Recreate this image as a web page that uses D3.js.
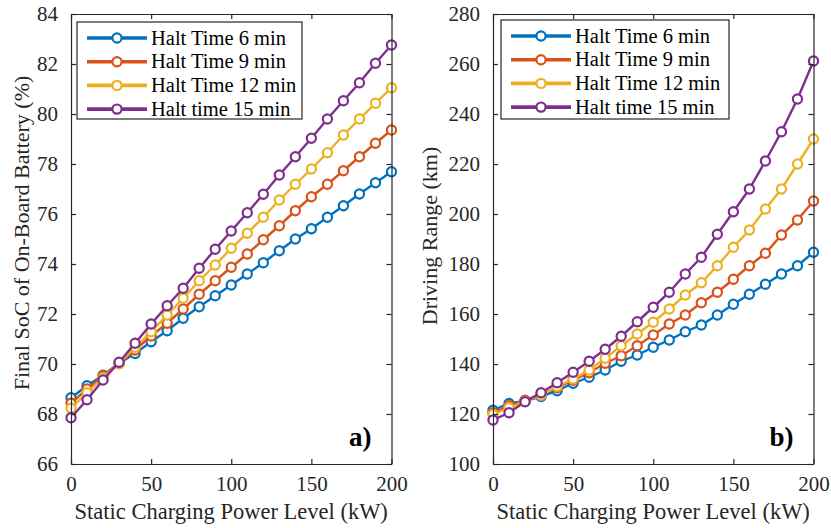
<!DOCTYPE html>
<html>
<head>
<meta charset="utf-8">
<script src="https://cdn.jsdelivr.net/npm/d3@7.9.0/dist/d3.min.js"></script>
<style>
  body { margin: 0; background: #fff; }
</style>
</head>
<body>
<svg id="chart" width="831" height="528" font-family="Liberation Serif"></svg>
<script>
// x values shared by both panels (kW)
const powerLevels = d3.range(0, 201, 10);

const seriesNames = ['Halt Time 6 min', 'Halt Time 9 min', 'Halt Time 12 min', 'Halt time 15 min'];
const seriesColors = ['#0072BD', '#D95319', '#EDB120', '#7E2F8E'];

// panel a) final SoC (%)
const soc6 = [68.65, 69.13, 69.55, 70.03, 70.42, 70.89, 71.33, 71.83, 72.29, 72.73, 73.16, 73.6, 74.05, 74.53, 75.0, 75.41, 75.87, 76.33, 76.8, 77.25, 77.69];
const soc9 = [68.43, 69.0, 69.53, 70.02, 70.56, 71.12, 71.63, 72.2, 72.79, 73.33, 73.87, 74.4, 74.97, 75.53, 76.13, 76.69, 77.19, 77.73, 78.29, 78.83, 79.36];
const soc12 = [68.23, 68.85, 69.45, 70.02, 70.67, 71.29, 71.96, 72.63, 73.33, 73.96, 74.63, 75.23, 75.87, 76.56, 77.19, 77.8, 78.45, 79.16, 79.8, 80.43, 81.05];
const soc15 = [67.85, 68.57, 69.36, 70.07, 70.83, 71.6, 72.33, 73.03, 73.83, 74.59, 75.32, 76.05, 76.79, 77.56, 78.29, 79.03, 79.8, 80.53, 81.25, 82.03, 82.76];

// panel b) driving range (km)
const range6 = [121.5, 124.2, 125.2, 127.0, 129.3, 132.3, 134.7, 137.6, 141.1, 143.6, 146.7, 149.6, 152.9, 155.6, 159.6, 163.9, 167.9, 171.9, 176.0, 179.3, 184.7];
const range9 = [120.5, 123.3, 125.5, 128.0, 130.5, 133.5, 136.5, 140.3, 143.3, 147.3, 151.6, 156.0, 159.6, 164.5, 168.7, 173.9, 179.3, 184.3, 191.6, 197.6, 205.2];
const range12 = [119.8, 122.5, 125.0, 127.5, 131.0, 134.0, 137.6, 142.3, 147.3, 152.0, 156.7, 162.0, 167.6, 172.5, 179.3, 186.7, 193.6, 202.0, 210.0, 220.0, 230.0];
const range15 = [117.6, 120.5, 124.9, 128.5, 132.5, 136.7, 141.1, 145.9, 151.1, 156.9, 162.7, 168.7, 176.0, 182.7, 191.9, 200.9, 210.0, 221.2, 232.9, 246.0, 261.2];

const xTicks = [0, 50, 100, 150, 200];
const socTicks = [66, 68, 70, 72, 74, 76, 78, 80, 82, 84];
const rangeTicks = [100, 120, 140, 160, 180, 200, 220, 240, 260, 280];

const svg = d3.select('#chart');
const axisColor = '#262626';
const serif = 'Liberation Serif';

function drawPanel(opts) {
  const { left, right, top, bottom } = opts;
  const g = svg.append('g').attr('font-family', serif);

  const x = d3.scaleLinear().domain([0, 200]).range([left, right]);
  const y = d3.scaleLinear().domain(opts.yDomain).range([bottom, top]);

  // series
  const line = d3.line().x((d, i) => x(powerLevels[i])).y(d => y(d));
  opts.series.forEach((vals, k) => {
    g.append('path')
      .attr('d', line(vals))
      .attr('fill', 'none')
      .attr('stroke', seriesColors[k])
      .attr('stroke-width', 2.4);
    g.selectAll(null).data(vals).join('circle')
      .attr('cx', (d, i) => x(powerLevels[i]))
      .attr('cy', d => y(d))
      .attr('r', 4.6)
      .attr('fill', '#fff')
      .attr('stroke', seriesColors[k])
      .attr('stroke-width', 2.2);
  });

  // axes: box with inward ticks (matlab look)
  const tl = 5;
  const bottomAx = g.append('g').attr('transform', `translate(0,${bottom})`)
    .call(d3.axisBottom(x).tickValues(xTicks).tickSizeInner(-tl).tickSizeOuter(0).tickPadding(12));
  const topAx = g.append('g').attr('transform', `translate(0,${top})`)
    .call(d3.axisTop(x).tickValues(xTicks).tickSizeInner(-tl).tickSizeOuter(0).tickFormat(''));
  const leftAx = g.append('g').attr('transform', `translate(${left},0)`)
    .call(d3.axisLeft(y).tickValues(opts.yTicks).tickSizeInner(-tl).tickSizeOuter(0).tickPadding(13));
  const rightAx = g.append('g').attr('transform', `translate(${right},0)`)
    .call(d3.axisRight(y).tickValues(opts.yTicks).tickSizeInner(-tl).tickSizeOuter(0).tickFormat(''));

  [bottomAx, topAx, leftAx, rightAx].forEach(a => {
    a.attr('font-family', serif).attr('font-size', 21);
    a.selectAll('path, line').attr('stroke', axisColor).attr('stroke-width', 1.2);
    a.selectAll('text').attr('fill', axisColor);
  });

  // axis titles
  g.append('text')
    .attr('x', (left + right) / 2)
    .attr('y', 519)
    .attr('text-anchor', 'middle')
    .attr('fill', axisColor)
    .attr('font-size', 22.5)
    .text('Static Charging Power Level (kW)');
  g.append('text')
    .attr('transform', `translate(${opts.yLabelX},${opts.yLabelY}) rotate(-90)`)
    .attr('text-anchor', 'middle')
    .attr('fill', axisColor)
    .attr('font-size', 22)
    .text(opts.yLabel);

  // panel tag
  g.append('text')
    .attr('x', right - 20)
    .attr('y', 446)
    .attr('text-anchor', 'end')
    .attr('font-weight', 'bold')
    .attr('font-size', 27)
    .attr('fill', '#000')
    .text(opts.tag);

  // legend
  const lg = opts.legend;
  g.append('rect')
    .attr('x', lg.x).attr('y', lg.y)
    .attr('width', lg.w).attr('height', lg.h)
    .attr('fill', '#fff')
    .attr('stroke', axisColor)
    .attr('stroke-width', 1.2);
  seriesNames.forEach((name, k) => {
    const ry = lg.y + 16 + k * 23.7;
    g.append('line')
      .attr('x1', lg.x + 10).attr('x2', lg.x + 70)
      .attr('y1', ry).attr('y2', ry)
      .attr('stroke', seriesColors[k])
      .attr('stroke-width', 3.6);
    g.append('circle')
      .attr('cx', lg.x + 40).attr('cy', ry).attr('r', 4.6)
      .attr('fill', '#fff')
      .attr('stroke', seriesColors[k])
      .attr('stroke-width', 2.2);
    g.append('text')
      .attr('x', lg.x + 74).attr('y', ry + 6.5)
      .attr('fill', '#000')
      .attr('font-size', 20.5)
      .text(name);
  });
}

drawPanel({
  left: 71, right: 391.5, top: 14, bottom: 464,
  yDomain: [66, 84], yTicks: socTicks,
  series: [soc6, soc9, soc12, soc15],
  yLabel: 'Final SoC of On-Board Battery (%)', yLabelX: 29, yLabelY: 233,
  tag: 'a)',
  legend: { x: 77, y: 22, w: 225, h: 97 }
});

drawPanel({
  left: 493, right: 813.5, top: 14, bottom: 464,
  yDomain: [100, 280], yTicks: rangeTicks,
  series: [range6, range9, range12, range15],
  yLabel: 'Driving Range (km)', yLabelX: 437, yLabelY: 236,
  tag: 'b)',
  legend: { x: 501, y: 20, w: 228, h: 99 }
});
</script>
</body>
</html>
